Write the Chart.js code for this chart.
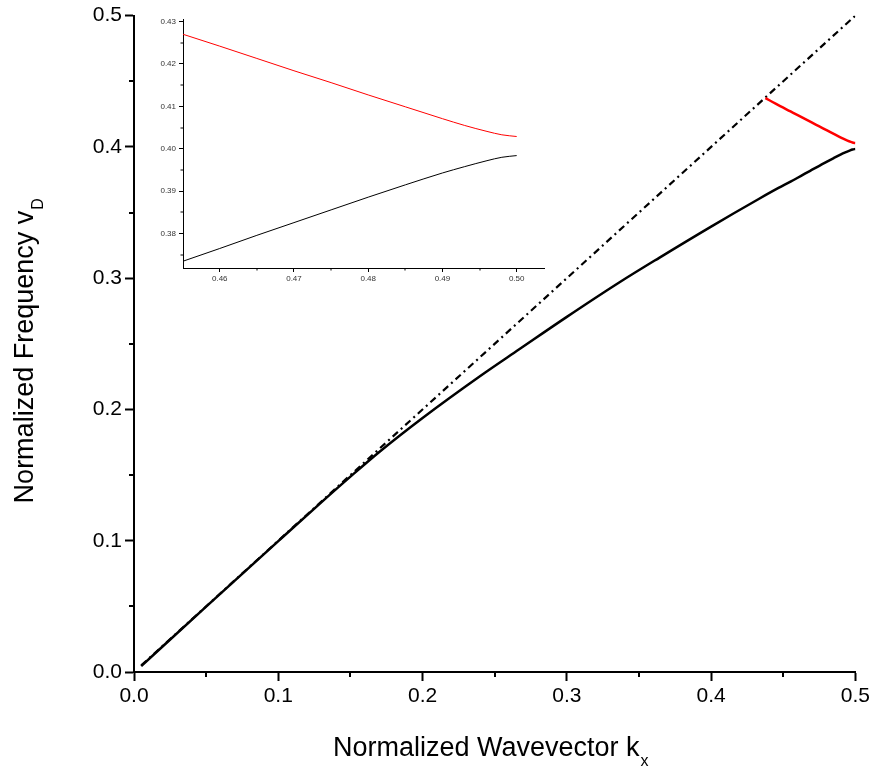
<!DOCTYPE html>
<html>
<head>
<meta charset="utf-8">
<script src="https://cdn.jsdelivr.net/npm/chart.js@4.4.1/dist/chart.umd.min.js"></script>
<style>
  html, body { margin: 0; padding: 0; background: #fff; }
  #wrap { position: relative; width: 873px; height: 769px; }
  #main { position: absolute; left: 0; top: 0; }
  #inset { position: absolute; left: 140px; top: 0; }
</style>
</head>
<body>
<div id="wrap">
  <canvas id="main" width="873" height="769"></canvas>
  <canvas id="inset" width="420" height="290"></canvas>
</div>
<script>
// ---------- data ----------
const lowerK = [0.005, 0.05, 0.1, 0.13, 0.15, 0.17, 0.2, 0.24, 0.267, 0.3, 0.336, 0.364, 0.4, 0.433, 0.4467, 0.45505, 0.46, 0.465, 0.47, 0.475, 0.48, 0.485, 0.49, 0.493, 0.496, 0.498, 0.5];
const lowerV = [0.0045, 0.0498, 0.0997, 0.1294, 0.1488, 0.1676, 0.1935, 0.2255, 0.2458, 0.2705, 0.2965, 0.3155, 0.3393, 0.3603, 0.3687, 0.3735, 0.3765, 0.3796, 0.3826, 0.3856, 0.3886, 0.3915, 0.3943, 0.3958, 0.3972, 0.3980, 0.3984];

const upperK = [0.4376, 0.445, 0.45505, 0.46, 0.465, 0.47, 0.475, 0.48, 0.485, 0.49, 0.493, 0.496, 0.498, 0.5];
const upperV = [0.4372, 0.4327, 0.4270, 0.4242, 0.4213, 0.4184, 0.4156, 0.4127, 0.4099, 0.4071, 0.4055, 0.4041, 0.4033, 0.4029];

const lightK = [0.005, 0.5];
const lightV = [0.005, 0.5];

const mainXTicks = [0.0, 0.1, 0.2, 0.3, 0.4, 0.5];
const mainYTicks = [0.0, 0.1, 0.2, 0.3, 0.4, 0.5];
const mainXMinor = [0.05, 0.15, 0.25, 0.35, 0.45];
const mainYMinor = [0.05, 0.15, 0.25, 0.35, 0.45];

const insetXTicks = [0.46, 0.47, 0.48, 0.49, 0.50];
const insetXMinor = [0.465, 0.475, 0.485, 0.495];
const insetYTicks = [0.38, 0.39, 0.40, 0.41, 0.42, 0.43];
const insetYMinor = [0.375, 0.385, 0.395, 0.405, 0.415, 0.425];

const xTitle = "Normalized Wavevector k";
const xTitleSub = "x";
const yTitle = "Normalized Frequency v";
const yTitleSub = "D";

// ---------- helpers ----------
const FONT = '"Liberation Sans", Arial, sans-serif';
const pts = (ks, vs) => ks.map((k, i) => ({ x: k, y: vs[i] }));

function minorTicks(xMinor, yMinor, len, width) {
  return {
    id: 'minorTicks',
    afterDraw(chart) {
      const ctx = chart.ctx;
      const xs = chart.scales.x, ys = chart.scales.y;
      ctx.save();
      ctx.strokeStyle = '#000';
      ctx.lineWidth = width;
      ctx.beginPath();
      xMinor.forEach(v => {
        const px = Math.round(xs.getPixelForValue(v));
        ctx.moveTo(px, xs.top);
        ctx.lineTo(px, xs.top + len);
      });
      yMinor.forEach(v => {
        const py = Math.round(ys.getPixelForValue(v));
        ctx.moveTo(ys.right, py);
        ctx.lineTo(ys.right - len, py);
      });
      ctx.stroke();
      ctx.restore();
    }
  };
}

const titlesPlugin = {
  id: 'titles',
  afterDraw(chart) {
    const ctx = chart.ctx;
    const a = chart.chartArea;
    const mainFont = '27px ' + FONT;
    const subFont = '16px ' + FONT;
    ctx.save();
    ctx.fillStyle = '#000';
    ctx.textBaseline = 'alphabetic';
    ctx.textAlign = 'left';
    // x title
    ctx.font = mainFont;
    let w1 = ctx.measureText(xTitle).width;
    ctx.font = subFont;
    let w2 = ctx.measureText(xTitleSub).width;
    let cx = (a.left + a.right) / 2 - 4;
    let start = cx - (w1 + w2 + 1) / 2;
    ctx.font = mainFont;
    ctx.fillText(xTitle, start, 756);
    ctx.font = subFont;
    ctx.fillText(xTitleSub, start + w1 + 1, 766);
    // y title
    ctx.font = mainFont;
    w1 = ctx.measureText(yTitle).width;
    ctx.font = subFont;
    w2 = ctx.measureText(yTitleSub).width;
    const cy = (a.top + a.bottom) / 2 + 7;
    ctx.translate(33, cy);
    ctx.rotate(-Math.PI / 2);
    start = -(w1 + w2 + 1) / 2;
    ctx.font = mainFont;
    ctx.fillText(yTitle, start, 0);
    ctx.font = subFont;
    ctx.fillText(yTitleSub, start + w1 + 1, 10);
    ctx.restore();
  }
};

// ---------- main chart ----------
new Chart(document.getElementById('main'), {
  type: 'line',
  data: {
    datasets: [
      { data: pts(lowerK, lowerV), borderColor: '#000', borderWidth: 2.5, pointRadius: 0, cubicInterpolationMode: 'monotone', fill: false },
      { data: pts(upperK, upperV), borderColor: '#ff0000', borderWidth: 2.5, pointRadius: 0, cubicInterpolationMode: 'monotone', fill: false },
      { data: pts(lightK, lightV), borderColor: '#000', borderWidth: 2.2, borderDash: [7, 4, 2, 4], pointRadius: 0, fill: false }
    ]
  },
  options: {
    responsive: false,
    animation: false,
    events: [],
    layout: { padding: { left: 0, top: 12, right: 16, bottom: 0 } },
    plugins: { legend: { display: false }, tooltip: { enabled: false } },
    scales: {
      x: {
        type: 'linear', min: 0, max: 0.5,
        afterBuildTicks: s => { s.ticks = mainXTicks.map(v => ({ value: v })); },
        afterFit: s => { s.height = 97; },
        ticks: { callback: v => v.toFixed(1), font: { family: FONT, size: 21 }, color: '#000', padding: 3, maxRotation: 0, autoSkip: false },
        grid: { drawOnChartArea: false, drawTicks: true, tickLength: 9, tickWidth: 2, tickColor: '#000' },
        border: { display: true, color: '#000', width: 2 }
      },
      y: {
        type: 'linear', min: 0, max: 0.5,
        afterBuildTicks: s => { s.ticks = mainYTicks.map(v => ({ value: v })); },
        afterFit: s => { s.width = 134; },
        ticks: { callback: v => v.toFixed(1), font: { family: FONT, size: 21 }, color: '#000', padding: 3, autoSkip: false },
        grid: { drawOnChartArea: false, drawTicks: true, tickLength: 9, tickWidth: 2, tickColor: '#000' },
        border: { display: true, color: '#000', width: 2 }
      }
    }
  },
  plugins: [minorTicks(mainXMinor, mainYMinor, 5, 2), titlesPlugin]
});

// ---------- inset chart ----------
new Chart(document.getElementById('inset'), {
  type: 'line',
  data: {
    datasets: [
      { data: pts(lowerK, lowerV), borderColor: '#000', borderWidth: 1, pointRadius: 0, cubicInterpolationMode: 'monotone', fill: false },
      { data: pts(upperK, upperV), borderColor: '#ff0000', borderWidth: 1, pointRadius: 0, cubicInterpolationMode: 'monotone', fill: false }
    ]
  },
  options: {
    responsive: false,
    animation: false,
    events: [],
    layout: { padding: { left: 0, top: 19, right: 16, bottom: 0 } },
    plugins: { legend: { display: false }, tooltip: { enabled: false } },
    scales: {
      x: {
        type: 'linear', min: 0.45505, max: 0.50368,
        afterBuildTicks: s => { s.ticks = insetXTicks.map(v => ({ value: v })); },
        afterFit: s => { s.height = 22; },
        ticks: { callback: v => v.toFixed(2), font: { family: FONT, size: 8 }, color: '#333', padding: 2, maxRotation: 0, autoSkip: false },
        grid: { drawOnChartArea: false, drawTicks: true, tickLength: 4, tickWidth: 1, tickColor: '#000' },
        border: { display: true, color: '#000', width: 1 }
      },
      y: {
        type: 'linear', min: 0.3719, max: 0.4306,
        afterBuildTicks: s => { s.ticks = insetYTicks.map(v => ({ value: v })); },
        afterFit: s => { s.width = 43; },
        ticks: { callback: v => v.toFixed(2), font: { family: FONT, size: 8 }, color: '#333', padding: 3, autoSkip: false },
        grid: { drawOnChartArea: false, drawTicks: true, tickLength: 4, tickWidth: 1, tickColor: '#000' },
        border: { display: true, color: '#000', width: 1 }
      }
    }
  },
  plugins: [minorTicks(insetXMinor, insetYMinor, 2.5, 1)]
});
</script>
</body>
</html>
